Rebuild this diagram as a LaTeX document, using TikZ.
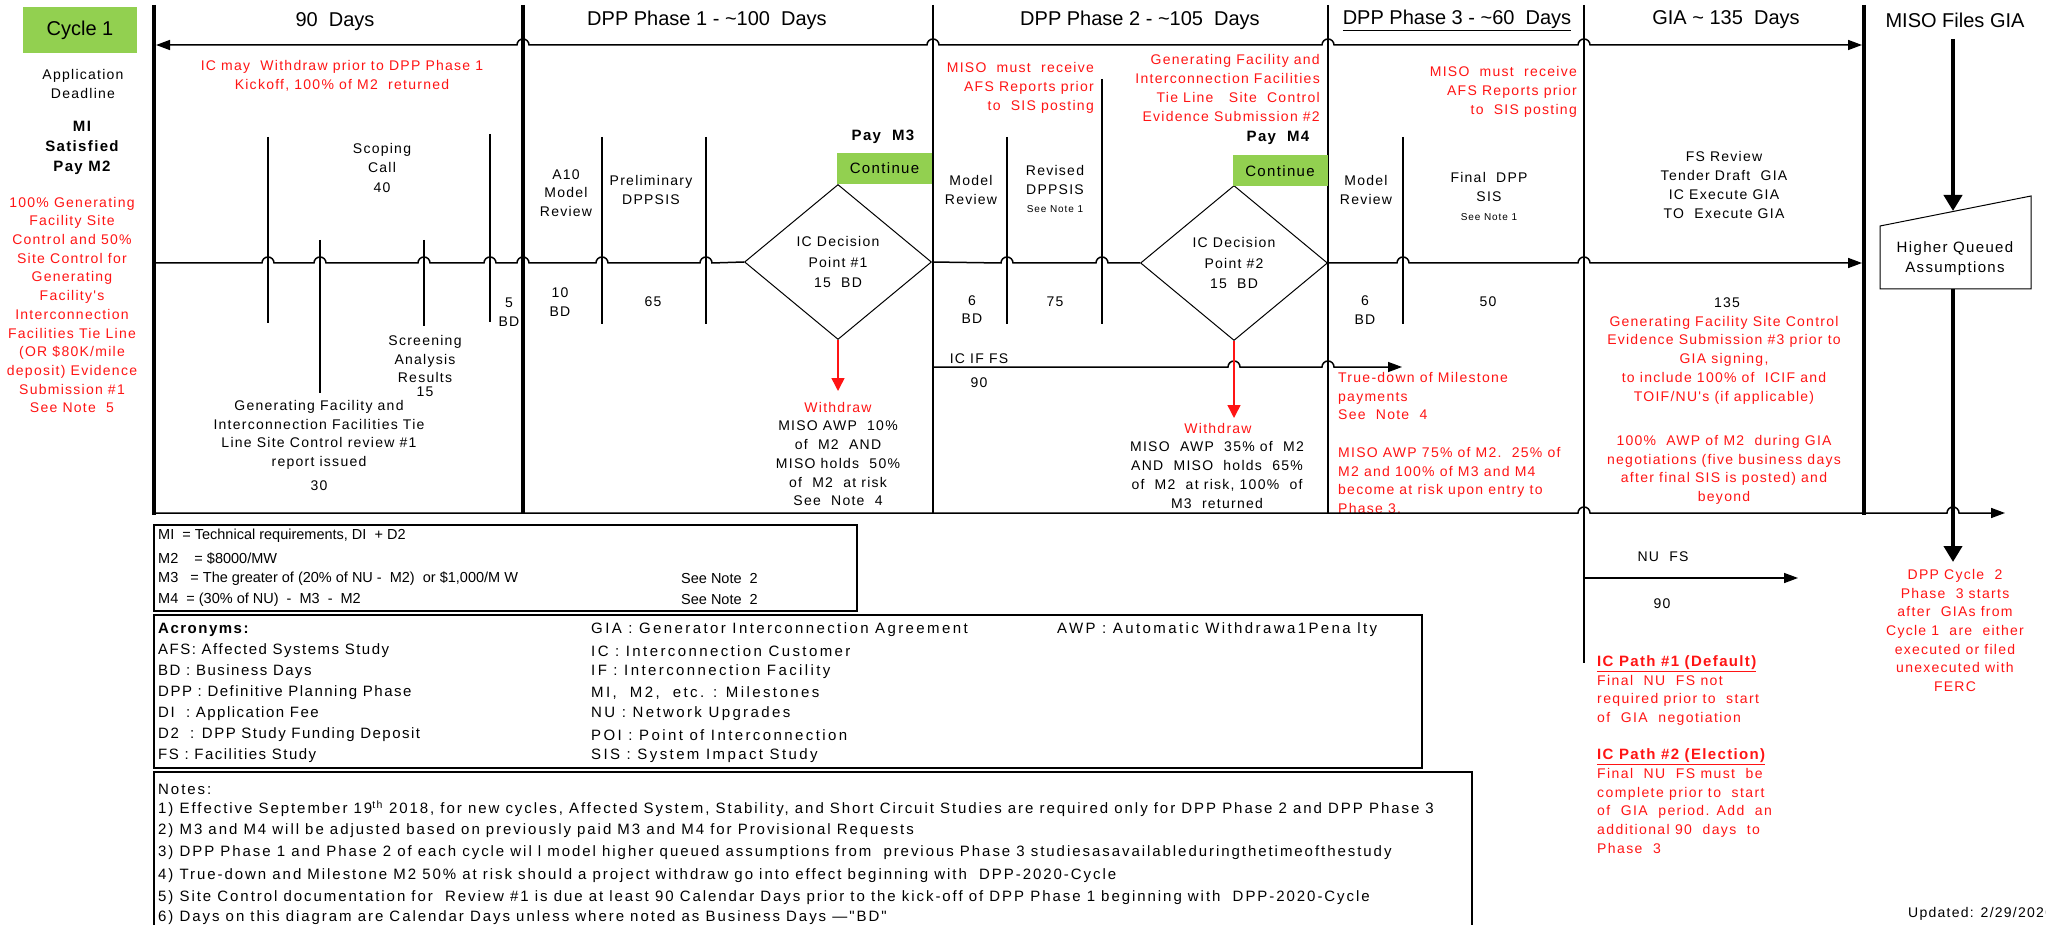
\documentclass[tikz,border=0pt]{standalone}
\usepackage{fontspec}
\setmainfont{Liberation Sans}
\newfontfamily\af{Liberation Sans}[LetterSpace=9]
\newfontfamily\afn{Liberation Sans}
\newfontfamily\afw{Liberation Sans}[LetterSpace=13]
\newfontfamily\afa{Liberation Sans}[LetterSpace=10]
\newfontfamily\afb{Liberation Sans}[LetterSpace=16]
\usetikzlibrary{shapes.geometric,arrows.meta}
\definecolor{mred}{RGB}{255,20,20}
\definecolor{mgreen}{RGB}{146,208,80}
\newcommand\hopat[2]{-- (#1-6,#2) arc[start angle=180,end angle=360,radius=6]}
\begin{document}
\begin{tikzpicture}[x=1pt,y=-1pt,
 txt/.style={font=\af\fontsize{14}{18.7}\selectfont,align=center,inner sep=0pt},
 rtxt/.style={txt,text=mred},
 smtxt/.style={font=\af\fontsize{10}{12}\selectfont,inner sep=0pt},
 ttl/.style={font=\afn\fontsize{20}{24}\selectfont,inner sep=0pt},
 bld/.style={font=\af\bfseries\fontsize{15}{20}\selectfont,align=center,inner sep=0pt},
 cont/.style={fill=mgreen,minimum width=95pt,minimum height=31pt,inner sep=0pt,font=\af\fontsize{15}{18}\selectfont},
 dia/.style={diamond,draw,line width=1pt,minimum width=187pt,minimum height=155pt,inner sep=0pt,align=center,font=\af\fontsize{14}{20.5}\selectfont},
 ln/.style={line width=1.5pt},
 thk/.style={line width=4pt},
 rln/.style={line width=1.5pt,draw=mred,-{Triangle[length=13pt,width=13pt]},fill=mred},
 arr/.style={-{Triangle[length=14pt,width=10pt]}},
 btxt/.style={font=\afn\fontsize{14.5}{18}\selectfont,inner sep=0pt,anchor=west},
 atxt/.style={font=\afa\fontsize{15}{18}\selectfont,inner sep=0pt,anchor=west},
 ctxt/.style={font=\afb\fontsize{15}{18}\selectfont,inner sep=0pt,anchor=west},
 ntxt/.style={font=\afw\fontsize{15}{18}\selectfont,inner sep=0pt,anchor=west},
]
\useasboundingbox (0,0) rectangle (2046,925);

% ---------- phase separators ----------
\draw[thk] (154,5) -- (154,515);
\draw[thk] (523,5) -- (523,513);
\draw[ln] (933,5) -- (933,513);
\draw[ln] (1328,5) -- (1328,513);
\draw[ln] (1584,5) -- (1584,663);
\draw[thk] (1864,5) -- (1864,515);

% ---------- titles ----------
\node[ttl] (h90) at (335,22) {90\ \ Days};
\node[ttl] (hp1) at (707,20) {DPP Phase 1 - \textasciitilde100\ \ Days};
\node[ttl] (hp2) at (1140,20) {DPP Phase 2 - \textasciitilde105\ \ Days};
\node[ttl] (hp3) at (1457,20) {\underline{DPP Phase 3 - \textasciitilde60\ \ Days}};
\node[ttl] (hgia) at (1726,20) {GIA \textasciitilde{} 135\ \ Days};
\node[ttl] (hmiso) at (1955,20) {MISO Files GIA};

% ---------- top double arrow ----------
\draw[ln,{Triangle[length=14pt,width=10pt]}-{Triangle[length=14pt,width=10pt]}] (156,45) \hopat{523}{45} \hopat{933}{45} \hopat{1328}{45} \hopat{1584}{45} -- (1862,45);

% ---------- left column ----------
\node[fill=mgreen,minimum width=114pt,minimum height=46pt,inner sep=0pt,font=\afn\fontsize{20}{24}\selectfont] (cyc) at (80,30) {Cycle 1};
\node[txt] (appdl) at (83,84) {Application\\Deadline};
\node[bld] (misat) at (82,148) {MI\\Satisfied\\Pay M2};
\node[rtxt] (sc1) at (72,305) {100\% Generating\\Facility Site\\Control and 50\%\\Site Control for\\Generating\\Facility's\\Interconnection\\Facilities Tie Line\\(OR \$80K/mile\\deposit) Evidence\\Submission \#1\\See Note\ \ 5};

% ---------- diamonds and continue boxes ----------
\node[dia] (d1) at (838,262) {IC Decision\\Point \#1\\15\ \ BD};
\node[dia] (d2) at (1234,263) {IC Decision\\Point \#2\\15\ \ BD};
\node[cont] (c1) at (884.5,168.5) {Continue};
\node[cont] (c2) at (1280,171) {Continue};
\node[bld] (pm3) at (883,137) {Pay\ \ M3};
\node[bld] (pm4) at (1278,138) {Pay\ \ M4};

% ---------- main timeline ----------
\draw[ln] (156,263) \hopat{268}{263} \hopat{320}{263} \hopat{424}{263} \hopat{490}{263} \hopat{523}{263} \hopat{602}{263} \hopat{706}{263} -- (d1.west);
\draw[ln] (d1.east) \hopat{1007}{263} \hopat{1102}{263} -- (d2.west);
\draw[ln,arr] (d2.east) \hopat{1403}{263} \hopat{1584}{263} -- (1862,263);

% ticks
\draw[ln] (268,137) -- (268,323);
\draw[ln] (320,240) -- (320,393);
\draw[ln] (424,240) -- (424,326);
\draw[ln] (490,134) -- (490,322);
\draw[ln] (602,137) -- (602,324);
\draw[ln] (706,137) -- (706,324);
\draw[ln] (1007,137) -- (1007,324);
\draw[ln] (1102,79) -- (1102,324);
\draw[ln] (1403,137) -- (1403,324);

% ---------- 90 days texts ----------
\node[rtxt] (wd0) at (342,75.5) {IC may\ \ Withdraw prior to DPP Phase 1\\Kickoff, 100\% of M2\ \ returned};
\node[txt] (scop) at (382,158) {Scoping\\Call};
\node[txt] (n40) at (382,188) {40};
\node[txt] (bd5) at (509,312.5) {5\\BD};
\node[txt] (scr) at (425,359) {Screening\\Analysis\\Results};
\node[txt] (n15) at (425,392) {15};
\node[txt] (gfr) at (319,435) {Generating Facility and\\Interconnection Facilities Tie\\Line Site Control review \#1\\report issued};
\node[txt] (n30) at (319,486) {30};

% ---------- phase 1 texts ----------
\node[txt] (a10) at (566,193) {A10\\Model\\Review};
\node[txt] (pdpp) at (651,190) {Preliminary\\DPPSIS};
\node[txt] (bd10) at (560,302) {10\\BD};
\node[txt] (n65) at (653,302) {65};
\node[rtxt] (w1) at (838,407) {Withdraw};
\node[txt] (w1t) at (838,463.5) {MISO AWP\ \ 10\%\\of\ \ M2\ \ AND\\MISO holds\ \ 50\%\\of\ \ M2\ \ at risk\\See\ \ Note\ \ 4};
\draw[rln] (d1.south) -- (838,391);

% ---------- phase 2 texts ----------
\node[rtxt,anchor=east,align=right] (afs2) at (1094,88) {MISO\ \ must\ \ receive\\AFS Reports prior\\to\ \ SIS posting};
\node[txt] (mr2) at (971,190) {Model\\Review};
\node[txt] (rev) at (1055,180) {Revised\\DPPSIS};
\node[smtxt] (sn1a) at (1055,209) {See Note 1};
\node[txt] (bd6a) at (972,309.5) {6\\BD};
\node[txt] (n75) at (1055,302) {75};
\node[rtxt,anchor=east,align=right] (gf2) at (1320,88) {Generating Facility and\\Interconnection Facilities\\Tie Line\ \ \ Site\ \ Control\\Evidence Submission \#2};
\draw[ln,arr] (933,367) \hopat{1234}{367} \hopat{1328}{367} -- (1402,367);
\node[txt,fill=white,inner sep=1.5pt] (icif) at (979,359) {IC IF FS};
\node[txt] (n90a) at (979,383) {90};
\draw[rln] (d2.south) -- (1234,418);
\node[rtxt] (w2) at (1218,428) {Withdraw};
\node[txt] (w2t) at (1217,475) {MISO\ \ AWP\ \ 35\% of\ \ M2\\AND\ \ MISO\ \ holds\ \ 65\%\\of\ \ M2\ \ at risk, 100\%\ \ of\\M3\ \ returned};

% ---------- phase 3 texts ----------
\node[rtxt,anchor=east,align=right] (afs3) at (1577,92) {MISO\ \ must\ \ receive\\AFS Reports prior\\to\ \ SIS posting};
\node[txt] (mr3) at (1366,190) {Model\\Review};
\node[txt] (fdpp) at (1489,187) {Final\ \ DPP\\SIS};
\node[smtxt] (sn1b) at (1489,217) {See Note 1};
\node[txt] (bd6b) at (1365,310) {6\\BD};
\node[txt] (n50) at (1488,302) {50};
\node[rtxt,anchor=west,align=left] (td) at (1338,443) {True-down of Milestone\\payments\\See\ \ Note\ \ 4\\[18.7pt]MISO AWP 75\% of M2.\ \ 25\% of\\M2 and 100\% of M3 and M4\\become at risk upon entry to\\Phase 3.};

% ---------- GIA texts ----------
\node[txt] (fsr) at (1724,185) {FS Review\\Tender Draft\ \ GIA\\IC Execute GIA\\TO\ \ Execute GIA};
\node[txt] (n135) at (1727,303) {135};
\node[rtxt] (gf3) at (1724,360) {Generating Facility Site Control\\Evidence Submission \#3 prior to\\GIA signing,\\to include 100\% of\ \ ICIF and\\TOIF/NU's (if applicable)};
\node[rtxt] (awp) at (1724,470) {100\%\ \ AWP of M2\ \ during GIA\\negotiations (five business days\\after final SIS is posted) and\\beyond};

% ---------- MISO files GIA ----------
\draw[line width=1pt] (1880,226) -- (2031,196) -- (2031,289) -- (1880,289) -- cycle;
\node[txt,font=\af\fontsize{15}{20}\selectfont] (hqa) at (1955,259) {Higher Queued\\Assumptions};
\coordinate (miso top) at (1953,39);
\coordinate (hq top) at (1953,211);
\coordinate (hq bot) at (1953,289);
\coordinate (cy2 top) at (1953,562);
\draw[thk,-{Triangle[length=16pt,width=18pt]}] (miso top) -- (hq top);
\draw[thk,-{Triangle[length=16pt,width=18pt]}] (hq bot) -- (cy2 top);
\node[rtxt] (cy2) at (1955,630.5) {DPP Cycle\ \ 2\\Phase\ \ 3 starts\\after\ \ GIAs from\\Cycle 1\ \ are\ \ either\\executed or filed\\unexecuted with\\FERC};

% ---------- bottom timeline ----------
\draw[ln,arr] (154,513) \hopat{1584}{513} \hopat{1953}{513} -- (2005,513);

% ---------- NU FS ----------
\draw[ln,arr] (1584,578) -- (1798,578);
\node[txt] (nufs) at (1663,557) {NU\ \ FS};
\node[txt] (n90b) at (1662,604) {90};
\node[rtxt,anchor=west,align=left,font=\afa\fontsize{14}{18.7}\selectfont] (path) at (1597,754.5) {{\af\bfseries\fontsize{15}{18.7}\selectfont\underline{IC Path \#1 (Default)}}\\Final\ \ NU\ \ FS not\\required prior to\ \ start\\of\ \ GIA\ \ negotiation\\[18.7pt]{\af\bfseries\fontsize{15}{18.7}\selectfont\underline{IC Path \#2 (Election)}}\\Final\ \ NU\ \ FS must\ \ be\\complete prior to\ \ start\\of\ \ GIA\ \ period. Add\ \ an\\additional 90\ \ days\ \ to\\Phase\ \ 3};
\node[txt,anchor=west] (upd) at (1908,914) {Updated: 2/29/2020};

% ---------- milestone box ----------
\draw[line width=2pt] (154,525) rectangle (857,611);
\node[btxt] (m1) at (158,536) {MI\ \ = Technical requirements, DI\ \ + D2};
\node[btxt] (m2) at (158,559) {M2\ \ \ \ = \$8000/MW};
\node[btxt] (m3) at (158,579) {M3\ \ \ = The greater of (20\% of NU - \ M2)\ \ or \$1,000/M W};
\node[btxt] (m4) at (158,600) {M4\ \ = (30\% of NU)\ \ -\ \ M3\ \ -\ \ M2};
\node[btxt] (sn2a) at (681,579) {See Note\ \ 2};
\node[btxt] (sn2b) at (681,600) {See Note\ \ 2};

% ---------- acronyms box ----------
\draw[line width=2pt] (154,615) rectangle (1422,768);
\node[atxt,font=\afa\bfseries\fontsize{15}{18}\selectfont] (acr) at (158,630) {Acronyms:};
\node[atxt] (a1) at (158,651) {AFS: Affected Systems Study};
\node[atxt] (a2) at (158,672) {BD : Business Days};
\node[atxt] (a3) at (158,693) {DPP : Definitive Planning Phase};
\node[atxt] (a4) at (158,714) {DI\ \ : Application Fee};
\node[atxt] (a5) at (158,735) {D2\ \ : DPP Study Funding Deposit};
\node[atxt] (a6) at (158,756) {FS : Facilities Study};
\node[ctxt] (b0) at (591,630) {GIA : Generator Interconnection Agreement};
\node[ctxt] (b1) at (591,651) {IC : Interconnection Customer};
\node[ctxt] (b2) at (591,672) {IF : Interconnection Facility};
\node[ctxt] (b3) at (591,693) {MI,\ \ M2,\ \ etc. : Milestones};
\node[ctxt] (b4) at (591,714) {NU : Network Upgrades};
\node[ctxt] (b5) at (591,735) {POI : Point of Interconnection};
\node[ctxt] (b6) at (591,756) {SIS : System Impact Study};
\node[ctxt] (c0) at (1057,630) {AWP : Automatic Withdrawa1Pena lty};

% ---------- notes box ----------
\draw[line width=2pt] (154,925) -- (154,772) -- (1472,772) -- (1472,925);
\node[ntxt] (nt0) at (158,789) {Notes:};
\node[ntxt] (nt1) at (158,809) {1) Effective September 19\textsuperscript{th} 2018, for new cycles, Affected System, Stability, and Short Circuit Studies are required only for DPP Phase 2 and DPP Phase 3};
\node[ntxt] (nt2) at (158,831) {2) M3 and M4 will be adjusted based on previously paid M3 and M4 for Provisional Requests};
\node[ntxt] (nt3) at (158,853) {3) DPP Phase 1 and Phase 2 of each cycle wil l model higher queued assumptions from\ \ previous Phase 3 studiesasavailableduringthetimeofthestudy};
\node[ntxt] (nt4) at (158,876) {4) True-down and Milestone M2 50\% at risk should a project withdraw go into effect beginning with\ \ DPP-2020-Cycle};
\node[ntxt] (nt5) at (158,898) {5) Site Control documentation for\ \ Review \#1 is due at least 90 Calendar Days prior to the kick-off of DPP Phase 1 beginning with\ \ DPP-2020-Cycle};
\node[ntxt] (nt6) at (158,918) {6) Days on this diagram are Calendar Days unless where noted as Business Days —"BD"};
\end{tikzpicture}
\end{document}
